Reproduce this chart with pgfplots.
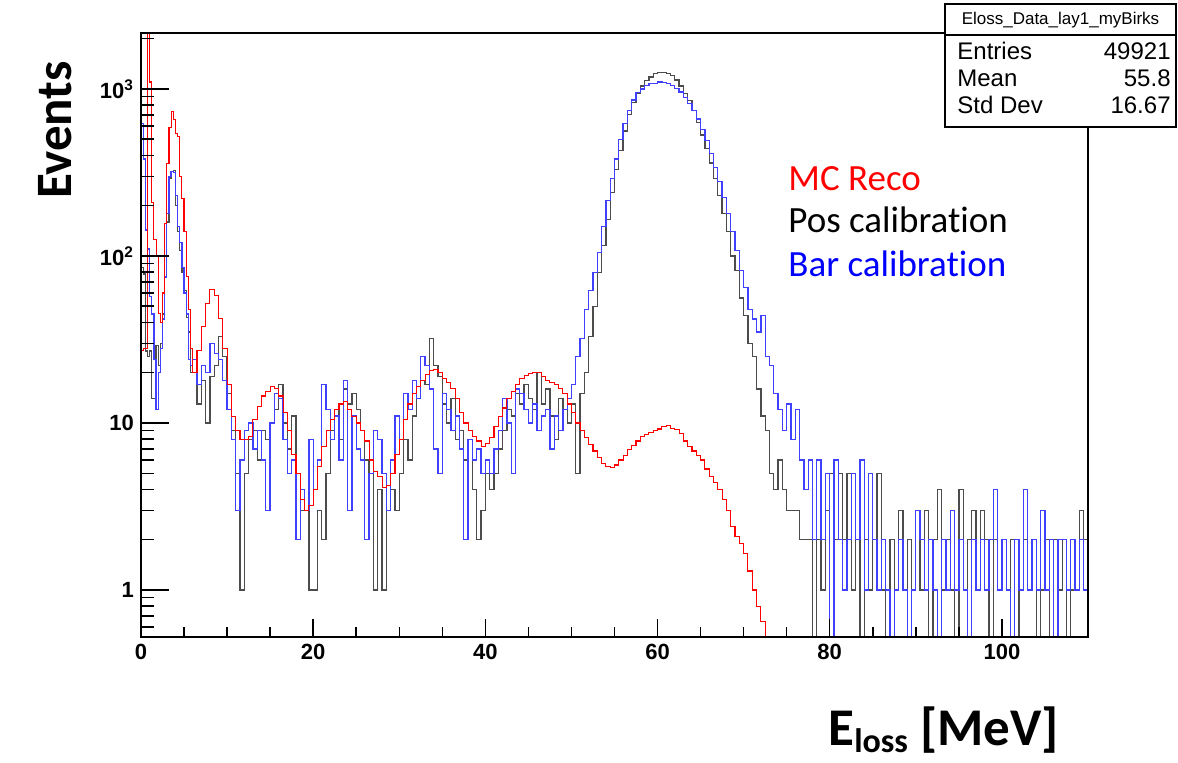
\documentclass[border=0pt]{standalone}
\usepackage{pgfplots}
\pgfplotsset{compat=1.18}
\usepackage{fontspec}
\setmainfont{Liberation Sans}
\newfontfamily\carlito[Ligatures=NoCommon]{Carlito}
\begin{document}
\begin{tikzpicture}
\useasboundingbox (0,0) rectangle (589pt,-381pt);
\begin{axis}[
  at={(70.5pt,-318.5pt)}, anchor=south west,
  scale only axis, width=473.5pt, height=302pt,
  xmin=0, xmax=110, ymode=log, ymin=0.523, ymax=2163,
  axis on top,
  axis line style={line width=0.9pt},
  tick align=inside, ytick pos=left, xtick=\empty,
  ytick={1,10,100,1000},
  yticklabels={1,10,10\textsuperscript{2},10\textsuperscript{3}},
  minor ytick={0.6,0.7,0.8,0.9,2,3,4,5,6,7,8,9,20,30,40,50,60,70,80,90,200,300,400,500,600,700,800,900,2000},
  major tick length=14pt, minor tick length=6.5pt,
  every tick/.style={black, line width=0.75pt},
  yticklabel style={font=\fontsize{11}{12}\selectfont\bfseries},
]
\addplot[const plot, black!70, line width=0.65pt] coordinates {
(0,85)(0.25,78)(0.5,27)(0.75,25)(1,27)(1.25,14)(1.5,14)(1.75,29)(2,22)(2.25,30)(2.5,45)(2.75,75)(3,160)(3.25,290)(3.5,320)(3.75,325)(4,200)(4.25,140)(4.5,108)(4.75,80)(5,62)(5.25,43)(5.5,35)(5.75,20)
(6,20)(6.5,13)(7,18)(7.5,10)(8,19)(8.5,22)(9,33)(9.5,25)(10,15)(10.5,9)(11,5)(11.5,1)(12,5)(12.5,8)(13,9)(13.5,6)(14,9)(14.5,8)(15,10)(15.5,12)(16,17)(16.5,10)(17,7)(17.5,11)(18,5)(18.5,3)(19,3)(19.5,1)(20,1)(20.5,3)(21,2)(21.5,5)(22,9)(22.5,12)(23,8)(23.5,16)(24,13)(24.5,15)(25,12)(25.5,9)(26,6)(26.5,5)(27,1)(27.5,4)(28,1)(28.5,3)(29,4)(29.5,3)
(30,5)(30.5,8)(31,6)(31.5,11)(32,14)(32.5,18)(33,17)(33.5,32)(34,22)(34.5,19)(35,13)(35.5,10)(36,14)(36.5,8)(37,9)(37.5,6)(38,8)(38.5,4)(39,2)(39.5,3)(40,5)(40.5,4)(41,5)(41.5,7)(42,9)(42.5,12)(43,11)(43.5,15)(44,13)(44.5,17)(45,14)(45.5,12)(46,20)(46.5,13)(47,16)(47.5,11)(48,8)(48.5,14)(49,12)(49.5,10)
(50,13)(50.5,5)(51,15)(51.5,20)(52,33)(52.5,50)(53,80)(53.5,115)(54,165)(54.5,240)(55,330)(55.5,430)(56,560)(56.5,700)(57,830)(57.5,940)(58,1040)(58.5,1120)(59,1180)(59.5,1240)(60,1260)(60.5,1250)(61,1240)(61.5,1200)(62,1130)(62.5,1040)(63,940)(63.5,850)(64,740)(64.5,630)(65,530)(65.5,440)(66,360)(66.5,290)(67,230)(67.5,180)(68,140)(68.5,100)(69,82)(69.5,56)
(70,44)(70.5,30)(71,25)(71.5,16)(72,11)(72.5,9)(73,5)(73.5,4)(74,6)(74.5,4)(75,3)(75.5,3)(76,3)(76.5,2)(77,2)(77.5,2)(78,0.523)(78.5,2)(79,1)(79.5,3)(80,5)(80.5,2)(81,5)(81.5,2)(82,5)(82.5,1)(83,2)(83.5,0.523)(84,2)(84.5,1)(85,2)(85.5,5)(86,1)(86.5,0.523)(87,2)(87.5,1)(88,3)(88.5,1)(89,2)(89.5,1)
(90,3)(90.5,1)(91,3)(91.5,0.523)(92,2)(92.5,4)(93,1)(93.5,2)(94,1)(94.5,0.523)(95,4)(95.5,1)(96,2)(96.5,3)(97,1)(97.5,3)(98,2)(98.5,0.523)(99,2)(99.5,1)(100,2)(100.5,1)(101,2)(101.5,0.523)(102,1)(102.5,2)(103,1)(103.5,2)(104,0.523)(104.5,1)(105,2)(105.5,0.523)(106,2)(106.5,1)(107,2)(107.5,0.523)(108,1)(108.5,1)(109,3)(109.5,2)(110,2)
};
\addplot[const plot, blue!75, line width=0.65pt] coordinates {
(0,620)(0.25,380)(0.5,143)(0.75,110)(1,57)(1.25,45)(1.5,24)(1.75,12)(2,20)(2.25,28)(2.5,42)(2.75,75)(3,180)(3.25,300)(3.5,320)(3.75,315)(4,230)(4.25,150)(4.5,120)(4.75,85)(5,60)(5.25,45)(5.5,24)(5.75,22)
(6,24)(6.5,17)(7,22)(7.5,20)(8,30)(8.5,26)(9,24)(9.5,18)(10,12)(10.5,8)(11,3)(11.5,6)(12,9)(12.5,10)(13,7)(13.5,9)(14,6)(14.5,3)(15,10)(15.5,15)(16,14)(16.5,8)(17,5)(17.5,6)(18,2)(18.5,4)(19,3)(19.5,8)(20,4)(20.5,6)(21,17)(21.5,12)(22,8)(22.5,11)(23,6)(23.5,18)(24,3)(24.5,11)(25,7)(25.5,6)(26,2)(26.5,5)(27,9)(27.5,8)(28,5)(28.5,3)(29,6)(29.5,11)
(30,8)(30.5,15)(31,12)(31.5,18)(32,14)(32.5,25)(33,22)(33.5,16)(34,7)(34.5,5)(35,15)(35.5,12)(36,9)(36.5,11)(37,7)(37.5,2)(38,8)(38.5,6)(39,7)(39.5,5)(40,6)(40.5,5)(41,7)(41.5,9)(42,14)(42.5,10)(43,5)(43.5,16)(44,15)(44.5,12)(45,10)(45.5,13)(46,9)(46.5,11)(47,12)(47.5,7)(48,11)(48.5,9)(49,12)(49.5,14)
(50,17)(50.5,25)(51,32)(51.5,48)(52,62)(52.5,80)(53,105)(53.5,150)(54,215)(54.5,290)(55,380)(55.5,500)(56,620)(56.5,740)(57,860)(57.5,950)(58,1000)(58.5,1050)(59,1080)(59.5,1080)(60,1100)(60.5,1090)(61,1080)(61.5,1050)(62,1010)(62.5,960)(63,890)(63.5,820)(64,740)(64.5,660)(65,570)(65.5,490)(66,410)(66.5,340)(67,280)(67.5,225)(68,180)(68.5,140)(69,108)(69.5,82)
(70,65)(70.5,48)(71,42)(71.5,35)(72,44)(72.5,25)(73,22)(73.5,15)(74,12)(74.5,9)(75,13)(75.5,8)(76,12)(76.5,6)(77,4)(77.5,6)(78,2)(78.5,6)(79,2)(79.5,5)(80,0.523)(80.5,6)(81,2)(81.5,1)(82,2)(82.5,5)(83,2)(83.5,6)(84,1)(84.5,5)(85,2)(85.5,1)(86,2)(86.5,1)(87,0.523)(87.5,1)(88,2)(88.5,1)(89,0.523)(89.5,1)
(90,3)(90.5,2)(91,1)(91.5,2)(92,1)(92.5,0.523)(93,2)(93.5,1)(94,3)(94.5,1)(95,2)(95.5,1)(96,0.523)(96.5,2)(97,1)(97.5,2)(98,1)(98.5,2)(99,4)(99.5,1)(100,2)(100.5,1)(101,0.523)(101.5,2)(102,1)(102.5,4)(103,1)(103.5,2)(104,1)(104.5,3)(105,1)(105.5,2)(106,0.523)(106.5,2)(107,2)(107.5,1)(108,2)(108.5,1)(109,2)(109.5,1)(110,1)
};
\addplot[const plot, red, line width=0.55pt] coordinates {
(0,27)(0.25,28)(0.5,28)(0.75,4000)(1,1100)(1.25,210)(1.5,125)(1.75,100)(2,45)(2.25,40)(2.5,60)(2.75,157)(3,360)(3.25,590)(3.5,730)(3.75,660)(4,540)(4.25,520)(4.5,300)(4.75,220)(5,140)(5.25,75)(5.5,48)(5.75,28)
(6,20)(6.5,27)(7,38)(7.5,52)(8,63)(8.5,58)(9,42)(9.5,28)(10,17)(10.5,11)(11,9)(11.5,8)(12,8)(12.5,8.3)(13,10.5)(13.5,12.5)(14,14.5)(14.5,15.5)(15,16.5)(15.5,16)(16,14.5)(16.5,11.5)(17,9)(17.5,6.5)(18,5)(18.5,3.5)(19,3)(19.5,3.2)(20,4)(20.5,5.5)(21,7.2)(21.5,9)(22,10.5)(22.5,12)(23,13)(23.5,13.5)(24,12)(24.5,11)(25,10)(25.5,9)(26,7.8)(26.5,6)(27,5.1)(27.5,4.8)(28,4.1)(28.5,4.2)(29,5)(29.5,6.5)
(30,8)(30.5,10.5)(31,13)(31.5,15)(32,16.5)(32.5,18)(33,19.5)(33.5,20.5)(34,21)(34.5,20)(35,18.5)(35.5,17.5)(36,16)(36.5,14)(37,11.5)(37.5,10)(38,9)(38.5,8.3)(39,7.8)(39.5,7.2)(40,7.5)(40.5,8.2)(41,9.5)(41.5,11)(42,12.3)(42.5,14)(43,15.5)(43.5,17)(44,18.5)(44.5,19.3)(45,19.8)(45.5,20)(46,20)(46.5,19)(47,18)(47.5,17.5)(48,17)(48.5,16)(49,15)(49.5,13)
(50,11.5)(50.5,10)(51,9)(51.5,8.2)(52,7.4)(52.5,6.8)(53,6.2)(53.5,5.7)(54,5.5)(54.5,5.4)(55,5.6)(55.5,6)(56,6.4)(56.5,6.9)(57,7.3)(57.5,7.8)(58,8.3)(58.5,8.5)(59,8.8)(59.5,9)(60,9.2)(60.5,9.5)(61,9.6)(61.5,9.3)(62,9.1)(62.5,8.6)(63,7.8)(63.5,7.2)(64,6.8)(64.5,6.4)(65,6)(65.5,5.3)(66,4.8)(66.5,4.4)(67,4)(67.5,3.5)(68,3)(68.5,2.4)(69,2.1)(69.5,1.9)
(70,1.65)(70.5,1.3)(71,1)(71.5,0.8)(72,0.65)(72.5,0.523)(110,0.523)
};
\end{axis}
\begin{axis}[
  at={(70.5pt,-318.5pt)}, anchor=south west,
  scale only axis, width=473.5pt, height=302pt,
  xmin=0, xmax=110, ymode=log, ymin=0.523, ymax=2163,
  axis line style={draw=none},
  tick align=inside, xtick pos=bottom, ytick=\empty,
  xtick={0,20,40,60,80,100},
  xticklabels={0,20,40,60,80,100},
  minor x tick num=3,
  major tick length=9pt, minor tick length=5pt,
  every tick/.style={black, line width=0.75pt},
  xticklabel style={font=\fontsize{11}{12}\selectfont\bfseries},
]
\end{axis}
\begin{scope}[x=0.5pt,y=-0.5pt]
\draw[fill=white, line width=0.6pt] (945,4) rectangle (1176,127);
\draw[line width=0.6pt] (945,35) -- (1176,35);
\node[font=\fontsize{8.5}{10}\selectfont] at (1060.5,20) {Eloss\_Data\_lay1\_myBirks};
\node[anchor=base west, font=\fontsize{12}{14}\selectfont, inner sep=0pt] at (957,59) {Entries};
\node[anchor=base east, font=\fontsize{12}{14}\selectfont, inner sep=0pt] at (1171,59) {49921};
\node[anchor=base west, font=\fontsize{12}{14}\selectfont, inner sep=0pt] at (957,86) {Mean};
\node[anchor=base east, font=\fontsize{12}{14}\selectfont, inner sep=0pt] at (1171,86) {55.8};
\node[anchor=base west, font=\fontsize{12}{14}\selectfont, inner sep=0pt] at (957,113) {Std Dev};
\node[anchor=base east, font=\fontsize{12}{14}\selectfont, inner sep=0pt] at (1171,113) {16.67};
\node[anchor=base west, inner sep=0pt, text=red, font=\carlito\fontsize{18.5}{20}\selectfont] at (788,190) {MC Reco};
\node[anchor=base west, inner sep=0pt, text=black, font=\carlito\fontsize{18.5}{20}\selectfont] at (788,232) {Pos calibration};
\node[anchor=base west, inner sep=0pt, text=blue, font=\carlito\fontsize{18.5}{20}\selectfont] at (788,276) {Bar calibration};
\node[rotate=90, inner sep=0pt, font=\carlito\bfseries\fontsize{25.5}{28}\selectfont] at (55,130) {Events};
\node[anchor=base west, inner sep=0pt, font=\carlito\bfseries\fontsize{26.5}{28}\selectfont] at (828,745) {E\raisebox{-0.15em}{\fontsize{17}{17}\selectfont loss} [MeV]};
\end{scope}
\end{tikzpicture}
\end{document}
